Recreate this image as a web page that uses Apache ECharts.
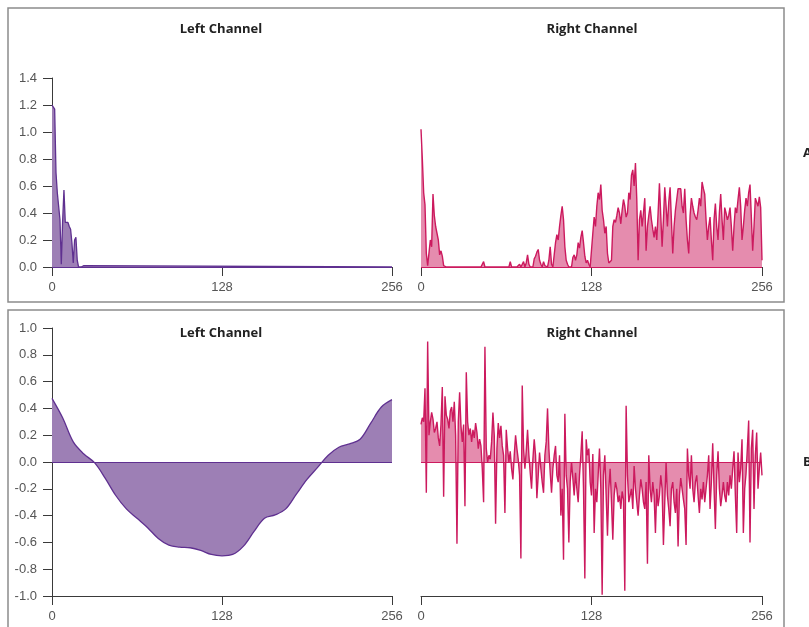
<!DOCTYPE html>
<html>
<head>
<meta charset="utf-8">
<script src="https://cdn.jsdelivr.net/npm/echarts@6/dist/echarts.min.js"></script>
<style>
  html, body { margin: 0; padding: 0; background: #ffffff; }
  #chart { width: 809px; height: 627px; }
</style>
</head>
<body>
<div id="chart"></div>
<script>
// Sample index axis shared by all four plots
const sampleTicks = [0, 128, 256];

// A: magnitude spectrum, left channel ([sample, magnitude])
const leftSpectrum = [
  [0, 1.20], [1, 1.21], [2, 1.17], [3, 0.70], [4, 0.55], [5, 0.56], [6, 0.35], [7, 0.02],
  [8, 0.34], [9, 0.57], [10, 0.33], [11, 0.32], [12, 0.33], [13, 0.30], [14, 0.28], [15, 0.18],
  [16, 0.03], [17, 0.20], [18, 0.22], [19, 0.05], [20, 0.00], [21, 0.01], [22, 0.00],
  [24, 0.01], [25, 0.00], [256, 0.00]
];

// A: magnitude spectrum, right channel (one value per sample 0..256)
const rightSpectrum = [
  1.02, 0.80, 0.55, 0.46, 0.10, 0.01, 0.00, 0.20, 0.15, 0.54, 0.38, 0.30, 0.25, 0.20, 0.09, 0.12,
  0.08, 0.01, 0, 0, 0, 0, 0, 0, 0, 0, 0, 0, 0, 0, 0, 0,
  0, 0, 0, 0, 0, 0, 0, 0, 0, 0, 0, 0, 0, 0, 0, 0.04,
  0, 0, 0, 0, 0, 0, 0, 0, 0, 0, 0, 0, 0, 0, 0, 0,
  0, 0, 0, 0.04, 0, 0, 0, 0, 0, 0, 0.02, 0, 0, 0.04, 0, 0.03,
  0.09, 0.02, 0, 0, 0, 0.06, 0.08, 0.11, 0.13, 0.05, 0.02, 0, 0.04, 0.01, 0, 0,
  0.05, 0.15, 0.02, 0, 0, 0.18, 0.24, 0.20, 0.30, 0.38, 0.45, 0.35, 0.15, 0.05, 0.02, 0,
  0.01, 0, 0.07, 0.09, 0.05, 0.09, 0.18, 0.14, 0.22, 0.27, 0.18, 0.08, 0.03, 0.05, 0.02, 0,
  0, 0.25, 0.37, 0.30, 0.45, 0.55, 0.50, 0.61, 0.42, 0.35, 0.25, 0.30, 0.10, 0.03, 0.02, 0.05,
  0.30, 0.35, 0.33, 0.38, 0.44, 0.40, 0.32, 0.42, 0.50, 0.45, 0.37, 0.40, 0.55, 0.50, 0.68, 0.72,
  0.60, 0.77, 0.50, 0.05, 0.35, 0.42, 0.30, 0.40, 0.51, 0.12, 0.30, 0.38, 0.45, 0.35, 0.28, 0.22,
  0.30, 0.20, 0.40, 0.62, 0.38, 0.15, 0.35, 0.59, 0.45, 0.30, 0.48, 0.59, 0.35, 0.10, 0.30, 0.42,
  0.50, 0.58, 0.57, 0.58, 0.45, 0.40, 0.58, 0.35, 0.20, 0.10, 0.38, 0.51, 0.45, 0.40, 0.37, 0.35,
  0.42, 0.51, 0.45, 0.63, 0.58, 0.54, 0.35, 0.20, 0.30, 0.37, 0.20, 0.05, 0.35, 0.47, 0.30, 0.20,
  0.40, 0.54, 0.35, 0.20, 0.44, 0.40, 0.35, 0.38, 0.44, 0.30, 0.12, 0.30, 0.44, 0.40, 0.50, 0.59,
  0.45, 0.20, 0.30, 0.42, 0.51, 0.45, 0.55, 0.61, 0.37, 0.12, 0.30, 0.51, 0.48, 0.45, 0.52, 0.44,
  0.05
];

// B: waveform, left channel, one value every 8 samples (0, 8, ... 256)
const leftWaveStep = 8;
const leftWave = [
  0.475, 0.33, 0.15, 0.06, -0.005, -0.12, -0.25, -0.35,
  -0.42, -0.49, -0.57, -0.62, -0.635, -0.64, -0.66, -0.69,
  -0.70, -0.69, -0.63, -0.52, -0.42, -0.395, -0.35, -0.24,
  -0.13, -0.04, 0.05, 0.11, 0.135, 0.17, 0.29, 0.41,
  0.465
];

// B: waveform, right channel (one value per sample 0..256)
const rightWave = [
  0.28, 0.33, 0.30, 0.55, -0.23, 0.90, 0.20, 0.30, 0.37, 0.32, 0.22, 0.25, 0.30, 0.18, 0.12, 0.28,
  0.56, -0.26, 0.49, 0.35, 0.32, 0.25, 0.38, 0.41, 0.30, 0.45, 0.20, -0.61, 0.30, 0.52, 0.27, 0.15,
  0.28, -0.33, 0.67, 0.30, 0.20, 0.25, 0.15, 0.24, 0.18, 0.29, 0.22, 0.10, 0.17, 0.12, -0.05, -0.30,
  0.86, 0.10, 0.00, 0.05, 0.02, 0.15, 0.37, 0.20, -0.46, 0.10, 0.29, 0.18, 0.27, 0.12, 0.05, -0.38,
  0.24, 0.10, 0.00, 0.08, -0.05, -0.13, 0.05, 0.20, 0.10, 0.02, -0.10, -0.72, 0.57, 0.10, -0.05, 0.08,
  0.24, 0.05, -0.08, -0.20, 0.02, 0.17, 0.05, -0.27, -0.10, 0.07, -0.05, -0.15, -0.23, 0.05, 0.15, 0.40,
  0.10, -0.08, -0.23, -0.05, 0.05, 0.12, -0.10, -0.15, 0.05, -0.40, -0.20, -0.73, 0.36, -0.10, -0.20, -0.60,
  -0.15, 0.00, -0.12, -0.25, -0.08, -0.20, -0.30, -0.10, 0.05, 0.23, -0.20, -0.87, 0.17, 0.05, 0.10, -0.15,
  -0.25, 0.06, -0.53, -0.20, -0.30, -0.10, 0.10, -0.20, -0.99, -0.10, 0.05, -0.25, -0.55, -0.20, -0.05, -0.30,
  -0.58, -0.25, -0.15, -0.20, -0.30, -0.25, -0.35, -0.22, -0.28, -0.96, 0.42, -0.10, -0.30, -0.25, -0.20, -0.35,
  -0.03, -0.20, -0.30, -0.40, -0.25, -0.13, -0.20, -0.30, -0.35, -0.15, -0.76, 0.05, -0.20, -0.30, -0.15, -0.25,
  -0.53, -0.20, -0.33, -0.25, -0.10, -0.20, -0.62, -0.30, 0.00, -0.25, -0.35, -0.48, -0.20, -0.15, -0.30, -0.38,
  -0.20, -0.63, -0.25, -0.12, -0.20, -0.28, -0.35, -0.62, 0.10, -0.10, -0.20, 0.05, -0.20, -0.30, -0.15, -0.10,
  -0.25, -0.38, -0.20, -0.28, -0.15, -0.30, -0.20, -0.10, 0.05, -0.35, -0.15, 0.14, -0.20, -0.50, -0.10, 0.08,
  -0.20, -0.33, -0.25, -0.15, -0.25, -0.30, -0.15, -0.25, -0.10, -0.20, -0.05, 0.08, -0.25, -0.53, 0.07, -0.15,
  -0.05, 0.17, -0.53, -0.20, -0.09, 0.10, 0.31, -0.60, 0.10, 0.24, -0.35, 0.05, 0.22, -0.20, -0.05, 0.07,
  -0.10
];

const panelTitles = ['Left Channel', 'Right Channel'];
const panelLetters = ['A', 'B'];

const purple = { line: '#5f3090', fill: '#9d7fb5' };
const pink = { line: '#cc1a5e', fill: '#e58cae' };

const axisGray = '#3a3a3a';
const labelGray = '#555555';
const labelFont = 'Liberation Sans';

const chart = echarts.init(document.getElementById('chart'), null, { renderer: 'canvas' });

const grids = [
  { left: 52, top: 78, width: 340, height: 189 },   // A left
  { left: 421, top: 78, width: 341, height: 189 },  // A right
  { left: 52, top: 328, width: 340, height: 268 },  // B left
  { left: 421, top: 328, width: 341, height: 268 }  // B right
];

function xAxisFor(gridIndex, showLine) {
  return {
    type: 'value', gridIndex, min: 0, max: 256, interval: 128,
    position: 'bottom',
    axisLine: { show: showLine, onZero: false, lineStyle: { color: axisGray, width: 1 } },
    axisTick: { show: true, length: 9, lineStyle: { color: axisGray, width: 1 }, customValues: sampleTicks },
    axisLabel: {
      show: true, margin: 14, color: labelGray, fontSize: 13, fontFamily: labelFont,
      customValues: sampleTicks
    },
    splitLine: { show: false }
  };
}

function yAxisFor(gridIndex, min, max, visible) {
  return {
    type: 'value', gridIndex, min, max, interval: 0.2,
    show: visible,
    axisLine: { show: true, onZero: false, lineStyle: { color: axisGray, width: 1 } },
    axisTick: { show: true, length: 9, lineStyle: { color: axisGray, width: 1 } },
    axisLabel: {
      margin: 15, color: labelGray, fontSize: 13, fontFamily: labelFont,
      formatter: v => v.toFixed(1)
    },
    splitLine: { show: false }
  };
}

function zeroLine(color) {
  return {
    silent: true, symbol: 'none', label: { show: false },
    lineStyle: { color, width: 1.2, type: 'solid' },
    data: [[{ coord: [0, 0] }, { coord: [256, 0] }]]
  };
}

function areaSeries(idx, data, colors, extra) {
  return Object.assign({
    type: 'line', xAxisIndex: idx, yAxisIndex: idx,
    data, showSymbol: false, symbol: 'none',
    lineStyle: { color: colors.line, width: 1.3 },
    areaStyle: { color: colors.fill, opacity: 1 },
    itemStyle: { color: colors.line },
    markLine: zeroLine(colors.line),
    animation: false, z: 3
  }, extra || {});
}

const titleFont = 'bold 13px "Open Sans", Lato, sans-serif';
const graphic = [
  { type: 'rect', shape: { x: 8, y: 8, width: 776, height: 294 },
    style: { fill: 'none', stroke: '#8c8c8c', lineWidth: 1.5 }, silent: true },
  { type: 'rect', shape: { x: 8, y: 310, width: 776, height: 330 },
    style: { fill: 'none', stroke: '#8c8c8c', lineWidth: 1.5 }, silent: true }
];
[29, 333].forEach(y => {
  graphic.push({ type: 'text', x: 221, y, style: { text: panelTitles[0], font: titleFont, fill: '#222', align: 'center', verticalAlign: 'middle' }, silent: true });
  graphic.push({ type: 'text', x: 592, y, style: { text: panelTitles[1], font: titleFont, fill: '#222', align: 'center', verticalAlign: 'middle' }, silent: true });
});
graphic.push({ type: 'text', x: 803, y: 153, style: { text: panelLetters[0], font: titleFont, fill: '#222', align: 'left', verticalAlign: 'middle' }, silent: true });
graphic.push({ type: 'text', x: 803, y: 462, style: { text: panelLetters[1], font: titleFont, fill: '#222', align: 'left', verticalAlign: 'middle' }, silent: true });

chart.setOption({
  animation: false,
  backgroundColor: '#ffffff',
  grid: grids,
  xAxis: [xAxisFor(0, false), xAxisFor(1, false), xAxisFor(2, true), xAxisFor(3, true)],
  yAxis: [
    yAxisFor(0, 0, 1.4, true),
    yAxisFor(1, 0, 1.4, false),
    yAxisFor(2, -1, 1, true),
    yAxisFor(3, -1, 1, false)
  ],
  series: [
    areaSeries(0, leftSpectrum, purple),
    areaSeries(1, rightSpectrum.map((v, i) => [i, v]), pink, { lineStyle: { color: pink.line, width: 1.4 } }),
    areaSeries(2, leftWave.map((v, i) => [i * leftWaveStep, v]), purple, { smooth: 0.35 }),
    areaSeries(3, rightWave.map((v, i) => [i, v]), pink, { lineStyle: { color: pink.line, width: 1.4 } })
  ],
  graphic
});
</script>
</body>
</html>
